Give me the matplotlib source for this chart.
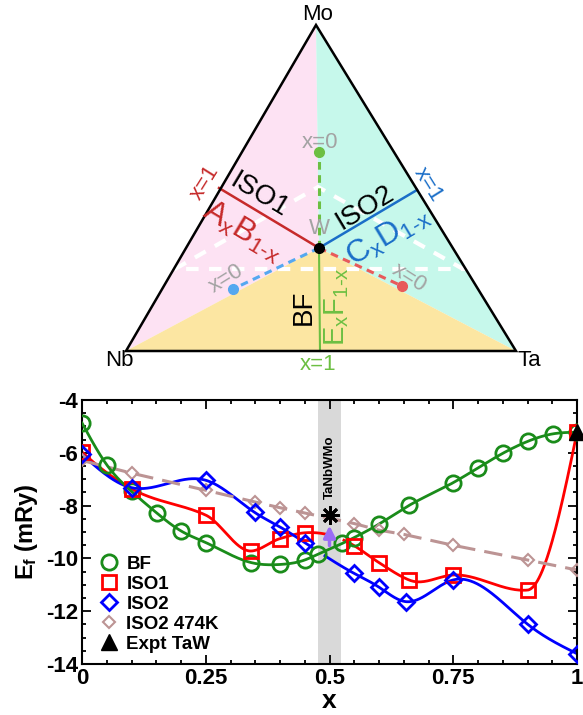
import numpy as np
import matplotlib
matplotlib.use('Agg')
import matplotlib.pyplot as plt
from matplotlib.lines import Line2D
from matplotlib.patches import Polygon

plt.rcParams['font.family'] = ['Liberation Sans', 'DejaVu Sans']
plt.rcParams['mathtext.fontset'] = 'custom'
plt.rcParams['mathtext.rm'] = 'Liberation Sans'
plt.rcParams['mathtext.bf'] = 'Liberation Sans:bold'
plt.rcParams['mathtext.it'] = 'Liberation Sans:italic'
plt.rcParams['axes.unicode_minus'] = False

# formation energies (mRy) vs x
bf_x = [0, 0.051, 0.1, 0.151, 0.2, 0.25, 0.342, 0.40, 0.45, 0.477, 0.526, 0.55, 0.6, 0.661, 0.749, 0.80, 0.851, 0.90, 0.952, 1.0]
bf_y = [-4.87, -6.48, -7.46, -8.28, -8.96, -9.40, -10.16, -10.23, -10.06, -9.84, -9.43, -9.21, -8.70, -7.99, -7.14, -6.57, -6.01, -5.57, -5.28, -5.22]

iso1_x = [0, 0.1, 0.25, 0.342, 0.40, 0.45, 0.55, 0.6, 0.661, 0.749, 0.90, 1.0]
iso1_y = [-5.97, -7.36, -8.36, -9.72, -9.25, -9.03, -9.52, -10.16, -10.82, -10.63, -11.20, -5.22]

iso2_x = [0, 0.1, 0.25, 0.349, 0.40, 0.45, 0.55, 0.6, 0.655, 0.749, 0.90, 1.0]
iso2_y = [-6.06, -7.32, -7.04, -8.26, -8.81, -9.40, -10.57, -11.09, -11.64, -10.82, -12.49, -13.61]

iso2t_x = [0, 0.1, 0.25, 0.349, 0.40, 0.45, 0.55, 0.6, 0.65, 0.749, 0.90, 1.0]
iso2t_y = [-6.29, -6.77, -7.42, -7.86, -8.08, -8.28, -8.68, -8.93, -9.09, -9.50, -10.06, -10.44]

expt_x = [1.0]
expt_y = [-5.20]

hea_x = 0.5
hea_y = -8.35
arrow_from = -9.62
band = (0.476, 0.524)

legend_labels = ['BF', 'ISO1', 'ISO2', 'ISO2 474K', 'Expt TaW']
xticks = [0, 0.25, 0.5, 0.75, 1]
xticklabels = ['0', '0.25', '0.5', '0.75', '1']
yticks = [-14, -12, -10, -8, -6, -4]

# ternary sketch (pixel positions in the upper panel)
nb = (126, 351)
mo = (316, 25)
ta = (516, 351)
w = (319, 248)
red_end = (219, 188)
blue_end = (417, 190)
green_end = (320, 351)
red_dot = (402, 286)
blue_dot = (233, 289)
green_dot = (319, 152)
white_tri = [(175, 269), (318, 187), (463, 269)]

green = '#1a8c1a'
tri_red = '#c62a2a'
tri_red2 = '#e85a5a'
tri_blue = '#1a6ec8'
tri_blue2 = '#55a8f0'
tri_green = '#6cbf42'
gray = '#a3a3a3'


def spline(x, y, n=600):
    # natural cubic spline
    x = np.asarray(x, float)
    y = np.asarray(y, float)
    k = len(x)
    h = np.diff(x)
    A = np.zeros((k, k))
    b = np.zeros(k)
    A[0, 0] = 1
    A[-1, -1] = 1
    for i in range(1, k - 1):
        A[i, i - 1] = h[i - 1]
        A[i, i] = 2 * (h[i - 1] + h[i])
        A[i, i + 1] = h[i]
        b[i] = 6 * ((y[i + 1] - y[i]) / h[i] - (y[i] - y[i - 1]) / h[i - 1])
    M = np.linalg.solve(A, b)
    xs = np.linspace(x[0], x[-1], n)
    j = np.clip(np.searchsorted(x, xs) - 1, 0, k - 2)
    t0 = xs - x[j]
    t1 = x[j + 1] - xs
    hj = h[j]
    ys = (M[j] * t1**3 / (6 * hj) + M[j + 1] * t0**3 / (6 * hj)
          + (y[j] / hj - M[j] * hj / 6) * t1 + (y[j + 1] / hj - M[j + 1] * hj / 6) * t0)
    return xs, ys


def akima(x, y, n=600):
    x = np.asarray(x, float)
    y = np.asarray(y, float)
    h = np.diff(x)
    m = np.diff(y) / h
    m = np.concatenate([[3 * m[0] - 2 * m[1], 2 * m[0] - m[1]], m,
                        [2 * m[-1] - m[-2], 3 * m[-1] - 2 * m[-2]]])
    dm = np.abs(np.diff(m))
    wa = dm[2:]
    wb = dm[:-2]
    den = wa + wb
    t = np.where(den > 1e-12, (wa * m[1:-2] + wb * m[2:-1]) / np.where(den > 1e-12, den, 1),
                 0.5 * (m[1:-2] + m[2:-1]))
    xs = np.linspace(x[0], x[-1], n)
    j = np.clip(np.searchsorted(x, xs) - 1, 0, len(x) - 2)
    s = (xs - x[j]) / h[j]
    h00 = 2 * s**3 - 3 * s**2 + 1
    h10 = s**3 - 2 * s**2 + s
    h01 = -2 * s**3 + 3 * s**2
    h11 = s**3 - s**2
    ys = h00 * y[j] + h10 * h[j] * t[j] + h01 * y[j + 1] + h11 * h[j] * t[j + 1]
    return xs, ys


fig = plt.figure(figsize=(5.83, 7.15), dpi=100)

# ---------------- upper panel: composition triangle ----------------
tax = fig.add_axes([0, 1 - 375 / 715, 1, 375 / 715])
tax.set_xlim(0, 583)
tax.set_ylim(375, 0)
tax.axis('off')

tax.add_patch(Polygon([nb, mo, w], closed=True, fc='#fde2f3', ec='none', zorder=1))
tax.add_patch(Polygon([mo, ta, w], closed=True, fc='#c6f8eb', ec='none', zorder=1))
tax.add_patch(Polygon([nb, w, ta], closed=True, fc='#fce6a2', ec='none', zorder=1))
outline = Polygon([nb, mo, ta], closed=True, fc='none', ec='black', lw=1.8, zorder=5)
tax.add_patch(outline)

wt = Polygon(white_tri, closed=True, fc='none', ec='white', lw=3, ls=(0, (3, 2.5)), zorder=2)
tax.add_patch(wt)
wt.set_clip_path(outline)

tax.plot([w[0], red_end[0]], [w[1], red_end[1]], color=tri_red, lw=1.8, zorder=3)
tax.plot([w[0], blue_end[0]], [w[1], blue_end[1]], color=tri_blue, lw=1.8, zorder=3)
tax.plot([w[0], green_end[0]], [w[1], green_end[1]], color=tri_green, lw=1.5, zorder=3)
tax.plot([w[0], red_dot[0]], [w[1], red_dot[1]], color=tri_red2, lw=2.2, ls=(0, (2.5, 1.8)), zorder=3)
tax.plot([w[0], blue_dot[0]], [w[1], blue_dot[1]], color=tri_blue2, lw=2.2, ls=(0, (2.5, 1.8)), zorder=3)
tax.plot([w[0], green_dot[0]], [w[1], green_dot[1]], color=tri_green, lw=2.2, ls=(0, (2.5, 1.8)), zorder=3)
tax.plot(*red_dot, 'o', color=tri_red2, ms=7, zorder=4)
tax.plot(*blue_dot, 'o', color=tri_blue2, ms=7, zorder=4)
tax.plot(*green_dot, 'o', color=tri_green, ms=7, zorder=4)
tax.plot(*w, 'o', color='black', ms=7, zorder=6)

tax.text(318, 14, 'Mo', fontsize=16, ha='center', va='center', zorder=7)
tax.text(119, 361, 'Nb', fontsize=16, ha='center', va='center', zorder=7)
tax.text(529, 361, 'Ta', fontsize=16, ha='center', va='center', zorder=7)
tax.text(318, 364, 'x=1', fontsize=16, color=tri_green, ha='center', va='center', zorder=7)
tax.text(205, 183, 'x=1', fontsize=16, color=tri_red, rotation=58, ha='center', va='center', zorder=7)
tax.text(428, 185, 'x=1', fontsize=16, color=tri_blue, rotation=-58, ha='center', va='center', zorder=7)
tax.text(259, 195, 'ISO1', fontsize=20, rotation=-31, ha='center', va='center', zorder=7)
tax.text(243, 231, r'$\mathrm{A_xB_{1\text{-}x}}$', fontsize=23, color=tri_red, rotation=-31,
         ha='center', va='center', zorder=7)
tax.text(365, 208, 'ISO2', fontsize=20, rotation=31, ha='center', va='center', zorder=7)
tax.text(388, 236, r'$\mathrm{C_xD_{1\text{-}x}}$', fontsize=23, color=tri_blue, rotation=31,
         ha='center', va='center', zorder=7)
tax.text(319, 229, 'W', fontsize=16, color=gray, ha='center', va='center', zorder=7)
tax.text(320, 142, 'x=0', fontsize=16, color=gray, ha='center', va='center', zorder=7)
tax.text(226, 279, 'x=0', fontsize=16, color=gray, rotation=32, ha='center', va='center', zorder=7)
tax.text(409, 278, 'x=0', fontsize=16, color=gray, rotation=-32, ha='center', va='center', zorder=7)
tax.text(304, 307, 'BF', fontsize=20, rotation=90, ha='center', va='center', zorder=7)
tax.text(337, 307, r'$\mathrm{E_xF_{1\text{-}x}}$', fontsize=21, color=tri_green, rotation=90,
         ha='center', va='center', zorder=7)

# ---------------- lower panel: formation energy ----------------
ax = fig.add_axes([82 / 583, 1 - 664 / 715, 495 / 583, 264 / 715])
ax.axvspan(band[0], band[1], color='#d9d9d9', lw=0, zorder=0)

xs, ys = spline(bf_x, bf_y)
ax.plot(xs, ys, color=green, lw=2, zorder=3)
ax.plot(bf_x, bf_y, 'o', mfc='none', mec=green, mew=2, ms=11, zorder=4)

xs, ys = akima(iso1_x, iso1_y)
ys[(xs > 0.496) & (xs < 0.528)] = np.nan
ax.plot(xs, ys, color='red', lw=2, zorder=2)
ax.plot(iso1_x, iso1_y, 's', mfc='none', mec='red', mew=2, ms=10, zorder=4)

xs, ys = spline(iso2_x, iso2_y)
ys[(xs > 0.468) & (xs < 0.49)] = np.nan
ax.plot(xs, ys, color='blue', lw=2, zorder=2)
ax.plot(iso2_x, iso2_y, 'D', mfc='none', mec='blue', mew=2, ms=8.5, zorder=4)

ax.plot(iso2t_x, iso2t_y, color='#bc9494', lw=2.2, ls=(0, (6, 3)), zorder=2)
ax.plot(iso2t_x, iso2t_y, 'D', mfc='none', mec='#bc9494', mew=1.5, ms=6, zorder=3)

ax.plot(expt_x, expt_y, '^', color='black', ms=12, zorder=6, clip_on=False)

ax.annotate('', xy=(hea_x, hea_y - 0.3), xytext=(hea_x, arrow_from),
            arrowprops=dict(arrowstyle='-|>,head_width=0.35,head_length=0.7',
                            color='#9a6cf5', lw=2.5), zorder=5)
ax.plot(hea_x, hea_y, marker=(8, 2, 0), color='black', ms=13, mew=2, zorder=6)
ax.text(hea_x, -6.55, 'TaNbWMo', rotation=90, fontsize=9.5, fontweight='bold',
        ha='center', va='center', zorder=6)

ax.set_xlim(0, 1)
ax.set_ylim(-14, -4)
ax.set_xticks(xticks)
ax.set_xticklabels(xticklabels)
ax.set_yticks(yticks)
ax.set_yticklabels([str(v) for v in yticks])
ax.set_xticks(np.arange(0, 1.001, 0.05), minor=True)
ax.set_yticks(np.arange(-14, -3.9, 0.5), minor=True)
ax.tick_params(which='both', direction='in', top=True, right=True, width=1.3)
ax.tick_params(which='major', length=6.5, labelsize=16, pad=3)
ax.tick_params(which='minor', length=3)
for lab in ax.get_xticklabels() + ax.get_yticklabels():
    lab.set_fontweight('bold')
for s in ax.spines.values():
    s.set_linewidth(1.5)

ax.set_xlabel('x', fontsize=19, fontweight='bold', labelpad=0)
ax.set_ylabel(r'$\mathbf{E_f}$ (mRy)', fontsize=17, fontweight='bold', labelpad=4)

handles = [
    Line2D([], [], ls='none', marker='o', mfc='none', mec=green, mew=2, ms=11),
    Line2D([], [], ls='none', marker='s', mfc='none', mec='red', mew=2, ms=10),
    Line2D([], [], ls='none', marker='D', mfc='none', mec='blue', mew=2, ms=8.5),
    Line2D([], [], ls='none', marker='D', mfc='none', mec='#bc9494', mew=1.5, ms=6),
    Line2D([], [], ls='none', marker='^', color='black', ms=12),
]
leg = ax.legend(handles, legend_labels, loc='lower left', bbox_to_anchor=(0.012, 0.0),
                frameon=False, handlelength=1.0, handletextpad=0.45, labelspacing=0.15,
                borderaxespad=0.2, prop={'weight': 'bold', 'size': 13.5})
leg.set_zorder(10)

fig.savefig('out.png', dpi=100)
